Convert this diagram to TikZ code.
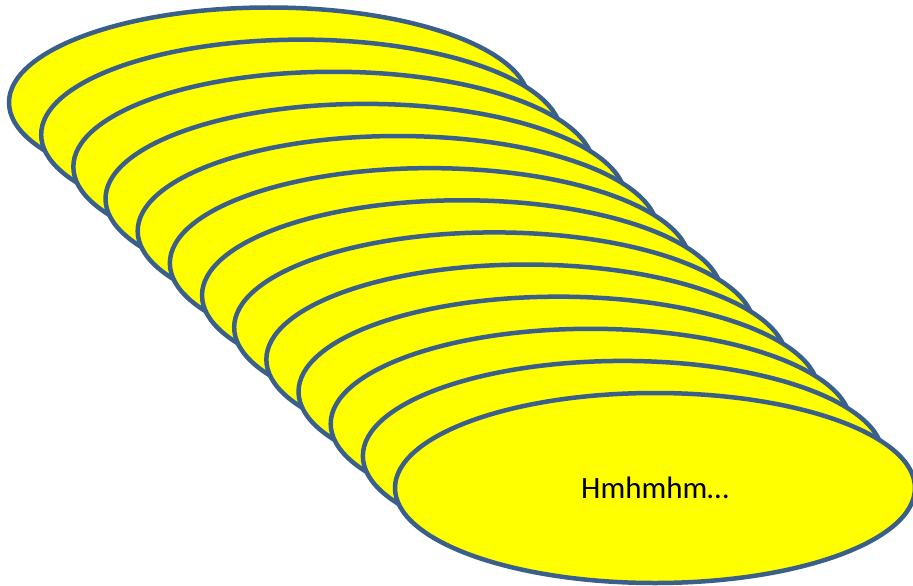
\documentclass[tikz,border=0pt]{standalone}
\usepackage{fontspec}
\setmainfont{Carlito}
\usetikzlibrary{shapes.geometric}
\definecolor{edgeblue}{RGB}{58,95,139}
\definecolor{fillyellow}{RGB}{255,255,0}
\begin{document}
\begin{tikzpicture}[x=1pt,y=1pt,
  disc/.style={ellipse, draw=edgeblue, line width=4.5pt, fill=fillyellow,
    inner sep=0pt, minimum width=520pt, minimum height=190pt,
    font=\fontsize{31}{36}\selectfont}]
\useasboundingbox (0,0) rectangle (913,-586);
\foreach \i in {0,...,11}{
  \node[disc] (e\i) at ({269+32.17*\i},{-(102.5+32.13*\i)}) {};
}
\node[disc] (e12) at (655,-488) {Hmhmhm…};
\end{tikzpicture}
\end{document}
